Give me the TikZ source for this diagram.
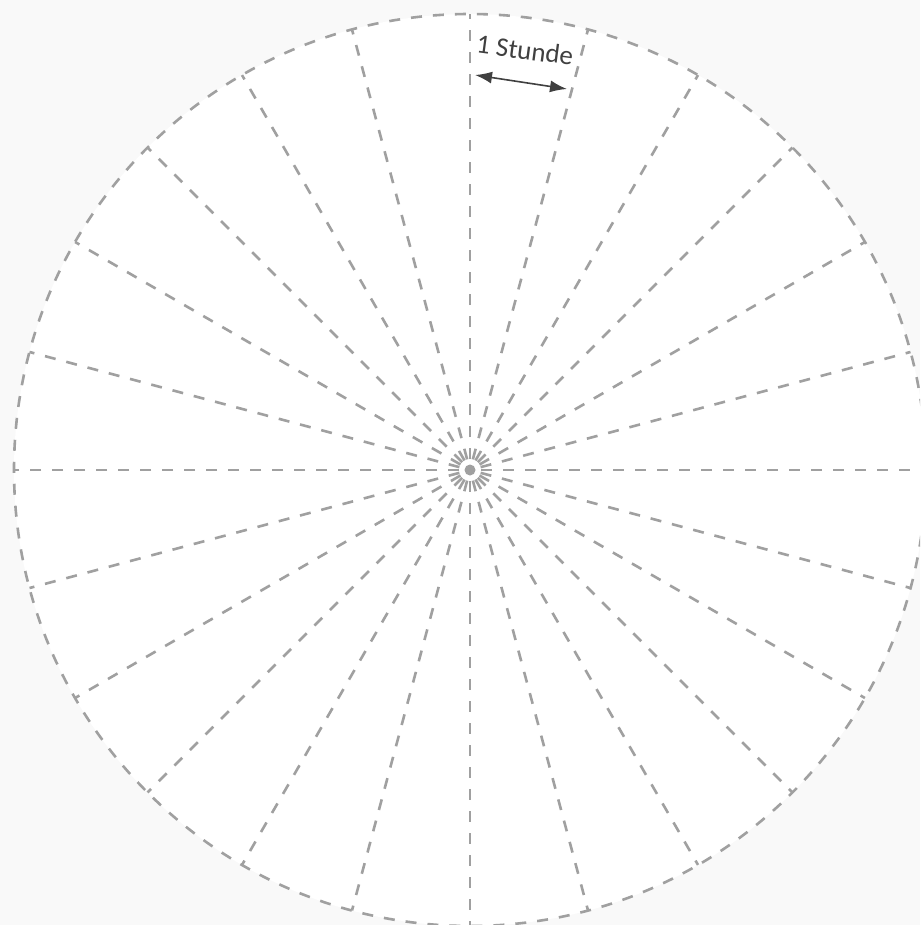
\documentclass[tikz,border=0pt]{standalone}
\usepackage{fontspec}
\setmainfont{Carlito}
\usetikzlibrary{arrows.meta}
\definecolor{bgc}{HTML}{F9F9F9}
\definecolor{dashc}{HTML}{A0A0A0}
\definecolor{arrc}{HTML}{404040}
\tikzset{
  rayline/.style={draw=dashc, line width=2.6pt, dash pattern=on 11pt off 11pt, dash phase=11pt},
  rimline/.style={draw=dashc, line width=2.6pt, dash pattern=on 11pt off 11pt},
  spanarrow/.style={draw=arrc, line width=1.6pt, {Latex[length=17pt,width=12pt]}-{Latex[length=17pt,width=12pt]}},
  hourlabel/.style={font=\fontsize{27}{32}\selectfont, text=arrc, inner sep=0pt}
}
\begin{document}
\begin{tikzpicture}[x=1pt,y=-1pt]
  \useasboundingbox (0,0) rectangle (920,925);
  \clip (0,0) rectangle (920,925);
  \fill[bgc] (0,0) rectangle (920,925);
  \coordinate (c) at (470,470);
  \fill[white] (c) circle[radius=456];
  \foreach \a in {0,15,...,345} {
    \draw[rayline] (c) -- ++(\a:456);
  }
  \draw[rimline] (c) circle[radius=456];
  \node[circle, fill=dashc, minimum size=11pt, inner sep=0pt] (dot) at (c) {};
  \coordinate (a1) at (475,75);
  \coordinate (a2) at (567,89);
  \draw[spanarrow] (a1) -- (a2);
  \node[hourlabel, rotate=-7.5] (lbl) at (525,50) {1 Stunde};
\end{tikzpicture}
\end{document}
